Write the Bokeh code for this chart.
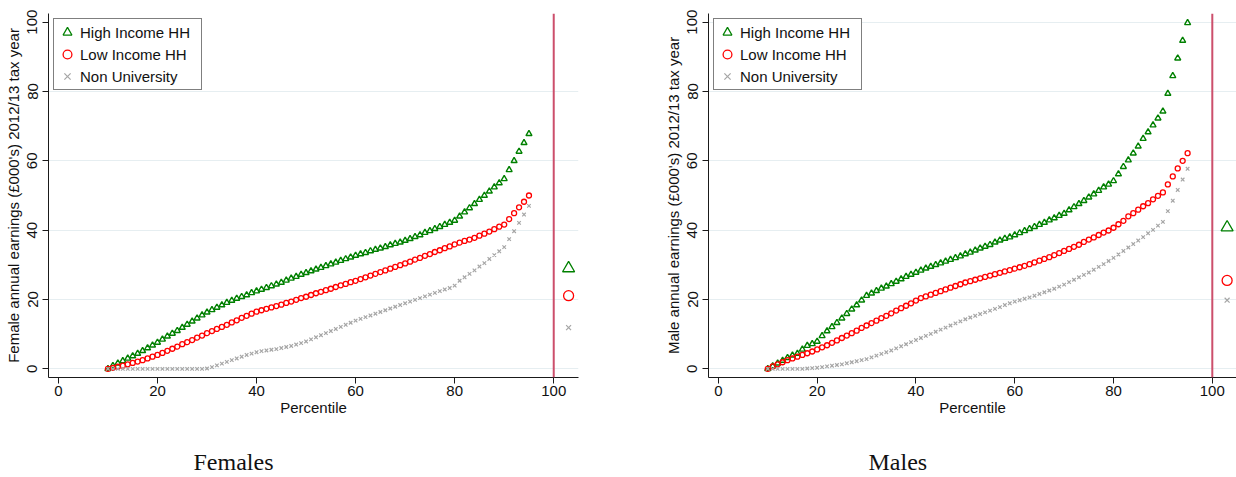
from bokeh.plotting import figure
from bokeh.layouts import row
from bokeh.models import Span, Legend, LegendItem, Title, FixedTicker, Range1d
from bokeh.embed import file_html
from bokeh.resources import INLINE

# ---------------- data ----------------
percentile = list(range(10, 96))

female_high = [0.0, 0.9, 1.6, 2.3, 3.0, 3.7, 4.4, 5.2, 6.0, 6.8, 7.6,
               8.5, 9.4, 10.2, 11.0, 11.9, 12.8, 13.7, 14.6, 15.5, 16.3,
               17.0, 17.7, 18.4, 19.1, 19.7, 20.3, 20.8, 21.3, 21.9, 22.4,
               22.9, 23.4, 23.9, 24.4, 24.9, 25.5, 26.1, 26.6, 27.2, 27.7,
               28.2, 28.7, 29.2, 29.7, 30.2, 30.7, 31.2, 31.7, 32.2, 32.7,
               33.1, 33.5, 34.0, 34.4, 34.8, 35.2, 35.7, 36.1, 36.5, 37.0,
               37.5, 38.1, 38.6, 39.3, 39.8, 40.4, 41.0, 41.6, 42.2, 42.8,
               44.0, 45.2, 46.4, 47.6, 48.8, 50.0, 51.2, 52.4, 53.6, 54.8,
               57.4, 60.0, 62.7, 65.2, 67.8]
female_low = [0.0, 0.3, 0.6, 0.9, 1.3, 1.7, 2.1, 2.5, 3.0, 3.5, 4.0,
              4.6, 5.2, 5.8, 6.4, 7.1, 7.7, 8.3, 9.0, 9.6, 10.3,
              10.9, 11.5, 12.1, 12.7, 13.4, 14.0, 14.7, 15.3, 15.9, 16.5,
              16.9, 17.3, 17.7, 18.1, 18.5, 19.0, 19.4, 19.9, 20.4, 20.8,
              21.3, 21.8, 22.2, 22.7, 23.1, 23.6, 24.1, 24.5, 25.0, 25.4,
              25.9, 26.4, 26.9, 27.4, 27.9, 28.4, 28.9, 29.4, 29.9, 30.4,
              30.9, 31.5, 32.0, 32.6, 33.1, 33.7, 34.2, 34.8, 35.3, 35.9,
              36.4, 36.9, 37.3, 37.8, 38.4, 39.0, 39.6, 40.3, 41.0, 41.6,
              43.2, 44.9, 46.6, 48.2, 50.0]
female_nonuni = [0.0, 0.0, 0.0, 0.0, 0.0, 0.0, 0.0, 0.0, 0.0, 0.0, 0.0,
                 0.0, 0.0, 0.0, 0.0, 0.0, 0.0, 0.0, 0.0, 0.0, 0.1,
                 0.5, 1.0, 1.5, 2.0, 2.5, 3.0, 3.5, 4.0, 4.4, 4.8,
                 5.1, 5.3, 5.5, 5.7, 6.0, 6.3, 6.6, 7.0, 7.4, 7.9,
                 8.5, 9.1, 9.7, 10.3, 10.9, 11.5, 12.1, 12.7, 13.3, 13.9,
                 14.4, 14.9, 15.4, 15.9, 16.4, 16.9, 17.4, 17.9, 18.4, 18.9,
                 19.4, 19.9, 20.4, 20.9, 21.4, 21.9, 22.4, 22.9, 23.3, 24.0,
                 25.4, 26.4, 27.4, 28.4, 29.5, 30.5, 31.7, 32.8, 33.9, 35.1,
                 37.4, 39.7, 42.1, 44.5, 47.0]

male_high = [0.0, 0.8, 1.6, 2.4, 3.2, 3.9, 4.4, 5.6, 6.7, 7.2, 7.9,
             9.5, 10.9, 12.1, 13.3, 14.6, 15.9, 17.2, 18.4, 19.8, 21.1,
             21.8, 22.5, 23.2, 23.8, 24.5, 25.2, 25.9, 26.6, 27.2, 27.8,
             28.4, 29.0, 29.5, 30.0, 30.5, 31.0, 31.5, 32.0, 32.5, 33.1,
             33.6, 34.2, 34.8, 35.3, 35.8, 36.5, 37.1, 37.6, 38.0, 38.6,
             39.2, 39.8, 40.4, 41.0, 41.6, 42.2, 42.9, 43.5, 44.2, 44.8,
             45.8, 46.7, 47.6, 48.5, 49.5, 50.4, 51.4, 52.4, 53.2, 54.2,
             56.2, 58.3, 60.2, 62.2, 64.2, 66.4, 68.3, 70.3, 72.3, 74.3,
             79.4, 84.5, 89.6, 94.7, 99.8]
male_low = [0.0, 0.7, 1.3, 1.9, 2.5, 3.0, 3.5, 4.0, 4.5, 5.0, 5.6,
            6.2, 6.8, 7.5, 8.2, 8.9, 9.6, 10.3, 11.0, 11.8, 12.5,
            13.2, 13.9, 14.6, 15.3, 16.0, 16.8, 17.5, 18.2, 18.9, 19.7,
            20.4, 20.9, 21.4, 21.9, 22.4, 22.9, 23.4, 23.9, 24.4, 24.9,
            25.3, 25.7, 26.1, 26.5, 26.9, 27.3, 27.7, 28.1, 28.5, 28.9,
            29.3, 29.7, 30.2, 30.7, 31.2, 31.7, 32.2, 32.8, 33.4, 34.0,
            34.6, 35.2, 35.8, 36.6, 37.3, 37.9, 38.6, 39.3, 39.9, 40.7,
            41.7, 42.7, 44.0, 44.9, 45.9, 46.9, 47.8, 48.9, 49.9, 50.9,
            53.2, 55.5, 57.8, 60.0, 62.2]
male_nonuni = [0.0, 0.0, 0.0, 0.0, 0.0, 0.0, 0.0, 0.0, 0.1, 0.2, 0.3,
               0.5, 0.7, 0.9, 1.1, 1.3, 1.6, 1.9, 2.2, 2.5, 2.8,
               3.3, 3.8, 4.3, 4.8, 5.3, 5.9, 6.5, 7.1, 7.7, 8.3,
               8.9, 9.5, 10.1, 10.7, 11.3, 11.9, 12.5, 13.1, 13.7, 14.3,
               14.8, 15.3, 15.8, 16.3, 16.8, 17.3, 17.8, 18.4, 18.9, 19.4,
               19.8, 20.2, 20.6, 21.1, 21.6, 22.1, 22.6, 23.1, 23.7, 24.3,
               25.0, 25.7, 26.4, 27.1, 27.8, 28.6, 29.4, 30.2, 31.1, 32.0,
               33.0, 34.0, 35.0, 36.0, 37.0, 38.0, 39.1, 40.1, 41.3, 42.4,
               45.5, 48.5, 51.6, 54.6, 57.7]

# averages shown to the right of the 100th percentile line
mean_position = [103]
female_mean_high = [29.0]
female_mean_low = [21.1]
female_mean_nonuni = [11.9]
male_mean_high = [40.8]
male_mean_low = [25.5]
male_mean_nonuni = [19.8]

tick_values = [0, 20, 40, 60, 80, 100]
series_labels = ["High Income HH", "Low Income HH", "Non University"]

GREEN = "#008000"
RED = "#ff0000"
GRAY = "#a6a6a6"
LINE100 = "#cc4f6c"
SANS = "Liberation Sans"


def make_panel(high, low, nonuni, m_high, m_low, m_non, ylabel, title_text,
               title_offset, frame_w, x_end, border_left, border_right, grid_ticks):
    p = figure(frame_width=frame_w, frame_height=364,
               x_range=Range1d(-2, x_end), y_range=Range1d(-2.5, 102.5),
               output_backend="svg", toolbar_location=None,
               min_border_left=border_left, min_border_right=border_right,
               min_border_top=13, min_border_bottom=100,
               background_fill_color="white", border_fill_color="white")
    p.outline_line_color = None

    p.xaxis.ticker = FixedTicker(ticks=tick_values)
    p.yaxis.ticker = FixedTicker(ticks=tick_values)
    p.axis.minor_tick_line_color = None
    p.axis.major_tick_in = 0
    p.axis.major_tick_out = 6
    p.axis.axis_line_color = "#1a1a1a"
    p.axis.major_tick_line_color = "#1a1a1a"
    p.axis.major_label_text_font = SANS
    p.axis.major_label_text_font_size = "15px"
    p.axis.major_label_text_color = "#111111"
    p.axis.axis_label_text_font = SANS
    p.axis.axis_label_text_font_size = "15px"
    p.axis.axis_label_text_font_style = "normal"
    p.axis.axis_label_text_color = "#111111"
    p.xaxis.major_label_standoff = 2
    p.xaxis.axis_label_standoff = 0
    p.yaxis.major_label_standoff = 5
    p.yaxis.axis_label_standoff = 3
    p.xaxis.axis_label = "Percentile"
    p.yaxis.axis_label = ylabel
    p.yaxis.major_label_orientation = "vertical"

    p.xgrid.visible = False
    p.ygrid.ticker = FixedTicker(ticks=grid_ticks)
    p.ygrid.grid_line_color = "#e6eef1"
    p.ygrid.grid_line_width = 1

    p.add_layout(Span(location=100, dimension="height", line_color=LINE100, line_width=2))

    p.scatter(percentile, high, marker="triangle", size=6, line_color=GREEN,
              fill_color=None, line_width=1.4)
    p.scatter(percentile, low, marker="circle", size=5, line_color=RED,
              fill_color=None, line_width=1.3)
    p.scatter(percentile, nonuni, marker="x", size=5, line_color=GRAY,
              line_width=1.2)

    rh = p.scatter(mean_position, m_high, marker="triangle", size=12, line_color=GREEN,
                   fill_color=None, line_width=1.3)
    rl = p.scatter(mean_position, m_low, marker="circle", size=10, line_color=RED,
                   fill_color=None, line_width=1.3)
    rn = p.scatter(mean_position, m_non, marker="x", size=7, line_color=GRAY,
                   line_width=1.2)

    legend = Legend(items=[LegendItem(label=series_labels[0], renderers=[rh]),
                           LegendItem(label=series_labels[1], renderers=[rl]),
                           LegendItem(label=series_labels[2], renderers=[rn])],
                    location="top_left", margin=5, padding=2, spacing=0,
                    glyph_width=22, glyph_height=22, label_height=22,
                    label_standoff=2, label_width=119,
                    label_text_font=SANS, label_text_font_size="15px",
                    label_text_color="#111111",
                    border_line_color="#000000", border_line_width=1,
                    background_fill_color="white", background_fill_alpha=1.0)
    p.add_layout(legend)

    t = Title(text=title_text, align="left", offset=title_offset,
              text_font="Liberation Serif", text_font_size="24px",
              text_font_style="normal", text_color="#111111", standoff=57)
    p.add_layout(t, "below")
    return p


p_f = make_panel(female_high, female_low, female_nonuni,
                 female_mean_high, female_mean_low, female_mean_nonuni,
                 "Female annual earnings (£000's) 2012/13 tax year", "Females",
                 145, 530, 105, 48, 60, [0, 20, 40, 60, 80])
p_m = make_panel(male_high, male_low, male_nonuni,
                 male_mean_high, male_mean_low, male_mean_nonuni,
                 "Male annual earnings (£000's) 2012/13 tax year", "Males",
                 160, 528, 104.9, 70, 0, [0, 20, 40, 60, 80, 100])

layout = row(p_f, p_m)
open("out.html", "w").write(file_html(layout, INLINE))
